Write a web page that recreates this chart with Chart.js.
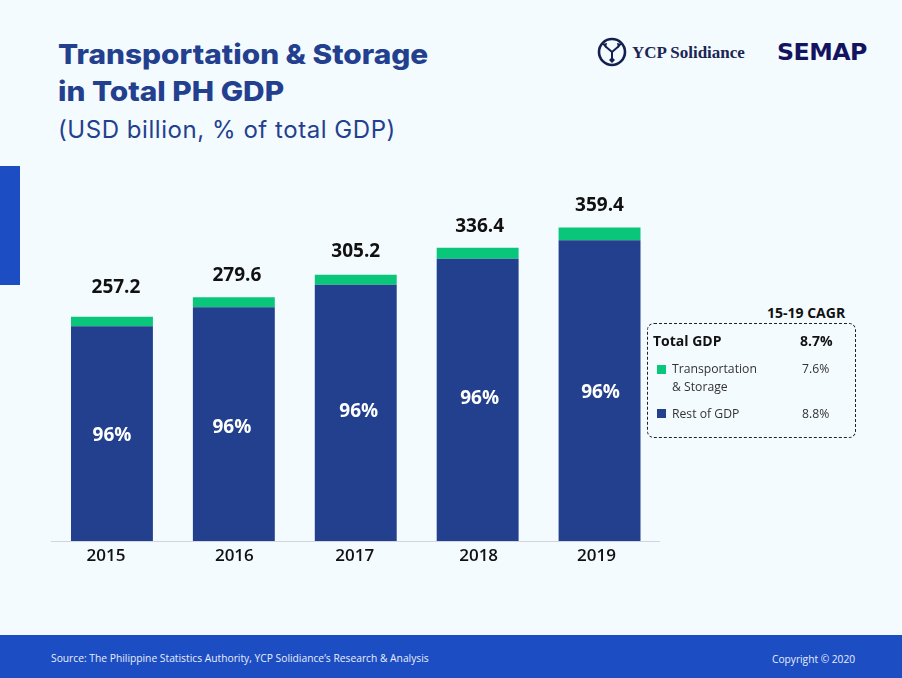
<!DOCTYPE html>
<html>
<head>
<meta charset="utf-8">
<script src="https://cdn.jsdelivr.net/npm/chart.js@4"></script>
<style>
  html, body { margin: 0; padding: 0; }
  body { width: 902px; height: 678px; position: relative; overflow: hidden; background: #f4fbff; font-family: "Open Sans", sans-serif; color: #111; }
  .abs { position: absolute; white-space: nowrap; }
  #chartWrap { position: absolute; left: 50.5px; top: 180px; width: 609.5px; height: 400px; }
  .title { left: 58px; font-family: Inter, sans-serif; font-weight: 800; font-size: 27.5px; color: #23408e; line-height: 37px; transform: scaleX(1.085); transform-origin: left; }
  .box { position: absolute; left: 647px; top: 323px; width: 207px; height: 113px; border: 1px dashed #222; border-radius: 7px; }
  .sw { position: absolute; width: 9px; height: 9px; }
  .lg { font-size: 12.2px; color: #333; }
  .b { font-weight: 700; font-size: 14px; color: #111; }
</style>
</head>
<body>
<div class="abs title" style="top:36px">Transportation &amp; Storage</div>
<div class="abs title" style="top:73px">in Total PH GDP</div>
<div class="abs" style="left:58px;top:113px;font-family:Inter,sans-serif;font-size:24px;color:#23408e;line-height:33px;letter-spacing:0.55px">(USD billion, % of total GDP)</div>

<div class="abs" style="left:0;top:166px;width:20px;height:119px;background:#1c4dc2"></div>

<svg class="abs" style="left:597px;top:37px" width="30" height="30" viewBox="0 0 30 30">
  <circle cx="15" cy="15" r="13" fill="none" stroke="#14204f" stroke-width="2.6"/>
  <path d="M8 9 L15 15 L22 9 M15 15 V23" fill="none" stroke="#14204f" stroke-width="2"/>
  <path d="M15 20 L18 23 L15 26 L12 23 Z M5 7 L10 6 L9 11 Z M25 7 L20 6 L21 11 Z" fill="#14204f"/>
</svg>
<div class="abs" style="left:632px;top:43px;font-family:'Liberation Serif',serif;font-weight:700;font-size:17px;color:#1b2554;line-height:20px">YCP Solidiance</div>
<div class="abs" style="left:777px;top:38px;font-family:'DejaVu Sans',sans-serif;font-weight:700;font-size:23px;color:#14145e;line-height:28px;letter-spacing:-0.5px;transform:scaleX(1.03);transform-origin:left">SEMAP</div>

<div id="chartWrap"><canvas id="gdpChart"></canvas></div>

<div class="abs" style="left:767px;top:304px;font-size:14px;font-weight:700;line-height:18px">15-19 CAGR</div>
<div class="box"></div>
<div class="abs b" style="left:653px;top:331px;line-height:20px" id="totalName"></div>
<div class="abs b" style="left:800px;top:331px;line-height:20px" id="totalCagr"></div>
<div class="sw" style="left:657px;top:365px;background:#0ac67a"></div>
<div class="abs lg" style="left:672px;top:360px;line-height:18px">Transportation<br>&amp; Storage</div>
<div class="abs lg" style="left:802px;top:360px;line-height:18px" id="cagrT"></div>
<div class="sw" style="left:657px;top:409px;background:#23408e"></div>
<div class="abs lg" style="left:672px;top:405px;line-height:18px">Rest of GDP</div>
<div class="abs lg" style="left:802px;top:405px;line-height:18px" id="cagrR"></div>

<div class="abs" style="left:0;top:635px;width:902px;height:43px;background:#1c4dc2"></div>
<div class="abs" style="left:51px;top:650px;font-size:10.27px;color:#e8eefc;line-height:16px">Source: The Philippine Statistics Authority, YCP Solidiance’s Research &amp; Analysis</div>
<div class="abs" style="left:772px;top:651px;font-size:10.2px;color:#e8eefc;line-height:16px">Copyright © 2020</div>

<script>
const years = ['2015', '2016', '2017', '2018', '2019'];
const restOfGdp = [246.4, 268.0, 293.9, 323.8, 345.0];
const transport = [10.8, 11.6, 11.3, 12.6, 14.4];
const totals = ['257.2', '279.6', '305.2', '336.4', '359.4'];
const shares = ['96%', '96%', '96%', '96%', '96%'];
const cagr = { total: '8.7%', transport: '7.6%', rest: '8.8%' };

document.getElementById('totalName').textContent = 'Total GDP';
document.getElementById('totalCagr').textContent = cagr.total;
document.getElementById('cagrT').textContent = cagr.transport;
document.getElementById('cagrR').textContent = cagr.rest;

// the labels in the original are hand placed, these are the per-bar nudges in px
const totalDx = [4, 3, 0, 2, 0];
const totalDy = [-29, -22, -23, -21, -22];
const shareDx = [0, -2, 3, 2, 1];
const shareDy = [2, 3, -1, -1, 2];
const tickDx = [-6, 0.5, -1, 1, -3];

const barLabels = {
    id: 'barLabels',
    afterDatasetsDraw(chart) {
        const { ctx } = chart;
        const x = chart.scales.x;
        const y = chart.scales.y;
        const bars = chart.getDatasetMeta(0).data;
        ctx.save();
        ctx.textAlign = 'center';
        ctx.textBaseline = 'middle';
        bars.forEach((bar, i) => {
            ctx.font = '700 19px "Open Sans"';
            ctx.fillStyle = '#ffffff';
            ctx.fillText(shares[i], bar.x + shareDx[i], (y.getPixelForValue(restOfGdp[i]) + y.getPixelForValue(0)) / 2 + shareDy[i]);
            ctx.fillStyle = '#111111';
            ctx.fillText(totals[i], bar.x + totalDx[i], y.getPixelForValue(restOfGdp[i] + transport[i]) + totalDy[i]);
            ctx.font = '600 17px "Open Sans"';
            ctx.fillText(years[i], x.getPixelForTick(i) + tickDx[i], y.bottom + 15);
        });
        ctx.restore();
    }
};

new Chart(document.getElementById('gdpChart').getContext('2d'), {
    type: 'bar',
    data: {
        labels: years,
        datasets: [
            { label: 'Rest of GDP', data: restOfGdp, backgroundColor: '#23408e' },
            { label: 'Transportation & Storage', data: transport, backgroundColor: '#0ac67a' }
        ]
    },
    options: {
        responsive: true,
        maintainAspectRatio: false,
        animation: false,
        categoryPercentage: 1,
        barPercentage: 0.672,
        layout: { padding: 0 },
        plugins: { legend: { display: false }, tooltip: { enabled: false } },
        scales: {
            x: {
                stacked: true,
                afterFit(axis) { axis.height = 39; },
                grid: { display: false },
                border: { color: '#d2d6dc', width: 1 },
                ticks: { display: false }
            },
            y: { stacked: true, display: false, min: 0, max: 414 }
        }
    },
    plugins: [barLabels]
});
</script>
</body>
</html>
